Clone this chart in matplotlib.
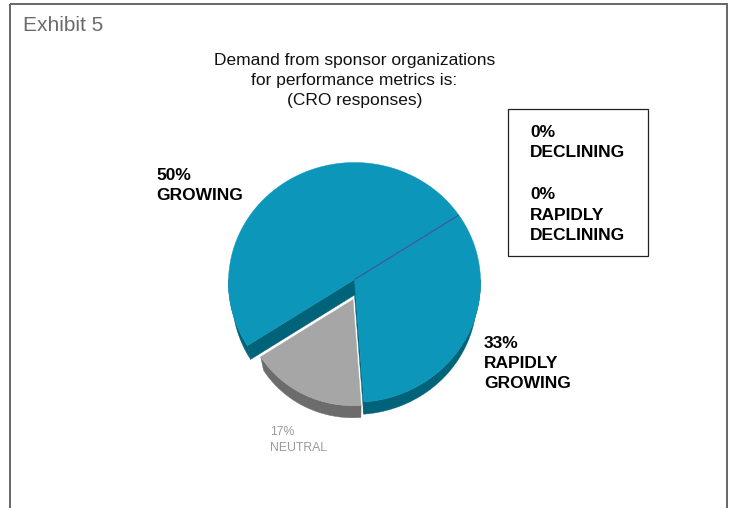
import numpy as np
import matplotlib
matplotlib.use("Agg")
import matplotlib.pyplot as plt
from matplotlib.patches import Polygon, Rectangle

plt.rcParams["font.family"] = ["Liberation Sans", "DejaVu Sans"]

# Survey shares, percent of CRO responses
pie_labels = ["GROWING", "NEUTRAL", "RAPIDLY\nGROWING"]
pie_shares = [50, 17, 33]
zero_labels = ["DECLINING", "RAPIDLY\nDECLINING"]
zero_shares = [0, 0]

title_lines = ["Demand from sponsor organizations",
               "for performance metrics is:",
               "(CRO responses)"]
exhibit_label = "Exhibit 5"

W, H = 731, 508
fig = plt.figure(figsize=(W / 100, H / 100), dpi=100)
ax = fig.add_axes([0, 0, 1, 1])
ax.set_xlim(0, W)
ax.set_ylim(H, 0)
ax.axis("off")

# --- 3D pie projection -------------------------------------------------
CX, CY = 354.5, 279.5      # screen position of the pie centre
RADIUS = 126.0
THICK = 52.0
ELEV = np.radians(72)      # camera elevation above the pie plane
DIST = 1600.0              # camera distance (perspective)
START = 33.0               # angle of the first slice edge, degrees ccw

BLUE, BLUE_SIDE = "#0B96BA", "#00637A"
GREY, GREY_SIDE = "#A6A6A6", "#6C6C6C"
slice_style = [
    dict(top=BLUE, side=BLUE_SIDE, off=(0.0, 0.0), scale=1.0),
    dict(top=GREY, side=GREY_SIDE, off=(-1.5, -21.0), scale=0.86),
    dict(top=BLUE, side=BLUE_SIDE, off=(0.0, 0.0), scale=1.0),
]


def project(u, v, w):
    up = v * np.sin(ELEV) + w * np.cos(ELEV)
    near = -v * np.cos(ELEV) + w * np.sin(ELEV)
    s = DIST / (DIST - near)
    return CX + u * s, CY - up * s


def arc_pts(ou, ov, r, ta, tb, w, n=None):
    if n is None:
        n = max(int(abs(tb - ta) * 1.5), 3)
    t = np.radians(np.linspace(ta, tb, n))
    x, y = project(ou + r * np.cos(t), ov + r * np.sin(t), w)
    return np.column_stack([x, y])


def poly(pts, color):
    ax.add_patch(Polygon(pts, closed=True, facecolor=color, edgecolor=color,
                         linewidth=0.3, joinstyle="round"))


total = float(sum(pie_shares))
edges = START + 360.0 * np.concatenate([[0], np.cumsum(pie_shares)]) / total

for i in [0, 2, 1]:
    st = slice_style[i]
    t1, t2 = edges[i], edges[i + 1]
    ou, ov = st["off"]
    r = RADIUS * st["scale"]
    vt = np.array(project(ou, ov, 0.0))
    vb = np.array(project(ou, ov, -THICK))

    # radial cut faces
    for t, visible in ((t1, np.cos(np.radians(t1)) > 0),
                       (t2, np.cos(np.radians(t2)) < 0)):
        if visible:
            rt = arc_pts(ou, ov, r, t, t, 0.0, 1)[0]
            rb = arc_pts(ou, ov, r, t, t, -THICK, 1)[0]
            poly([vt, rt, rb, vb], st["side"])

    # outer rim on the front half
    for lo, hi in ((180, 360), (540, 720)):
        a, b = max(t1, lo), min(t2, hi)
        if b > a:
            top = arc_pts(ou, ov, r, a, b, 0.0)
            bot = arc_pts(ou, ov, r, a, b, -THICK)[::-1]
            poly(np.vstack([top, bot]), st["side"])

    # top surface
    poly(np.vstack([[vt], arc_pts(ou, ov, r, t1, t2, 0.0)]), st["top"])

# divider between the two blue slices
st = slice_style[0]
v0 = project(*st["off"], 0.0)
e0 = arc_pts(*st["off"], RADIUS, START, START, 0.0, 1)[0]
ax.plot([v0[0], e0[0]], [v0[1], e0[1]], color="#4A4F9C", lw=0.8,
        solid_capstyle="butt")

# --- text ------------------------------------------------------------
for k, line in enumerate(title_lines):
    ax.text(354.5, 65 + 20 * k, line, ha="center", va="baseline",
            fontsize=12.5, color="#111111")

ax.text(23, 31, exhibit_label, ha="left", va="baseline", fontsize=15,
        color="#6B6B6B")


def label(x, y0, share, name, size, color, weight, step):
    lines = [f"{share}%"] + name.split("\n")
    for k, line in enumerate(lines):
        ax.text(x, y0 + step * k, line, ha="left", va="baseline",
                fontsize=size, color=color, fontweight=weight)


label(156, 180, pie_shares[0], pie_labels[0], 12.5, "#000000", "bold", 20)
label(484, 348, pie_shares[2], pie_labels[2], 12.5, "#000000", "bold", 20)
label(270, 435, pie_shares[1], pie_labels[1], 8.8, "#9A9A9A", "normal", 16)
label(530, 137, zero_shares[0], zero_labels[0], 12.5, "#000000", "bold", 20)
label(530, 199, zero_shares[1], zero_labels[1], 12.5, "#000000", "bold", 20.5)

# --- frames ----------------------------------------------------------
ax.add_patch(Rectangle((508, 109), 140, 147, fill=False, edgecolor="#222222",
                       linewidth=0.9))
ax.add_patch(Rectangle((10, 4), 717, 560, fill=False, edgecolor="#5A5A5A",
                       linewidth=1.3))

fig.savefig("out.png", dpi=100)
